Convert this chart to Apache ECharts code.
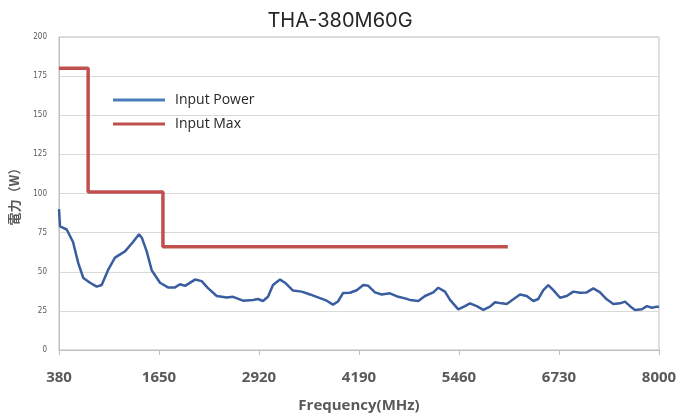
<!DOCTYPE html>
<html>
<head>
<meta charset="utf-8">
<script src="https://cdn.jsdelivr.net/npm/echarts@6/dist/echarts.min.js"></script>
<style>
  html, body { margin: 0; padding: 0; background: #fff; }
  #chart { width: 680px; height: 419px; }
</style>
</head>
<body>
<div id="chart"></div>
<script>
// values
var freqTicks = [380, 1650, 2920, 4190, 5460, 6730, 8000];

var powerFreq = [380, 393, 478, 558, 625, 689, 774, 859, 922, 1002, 1091, 1218, 1320, 1396, 1434, 1494, 1557, 1663, 1764, 1853,
  1917, 1980, 2107, 2192, 2272, 2383, 2510, 2590, 2717, 2844, 2907, 2971, 3034, 3098, 3187, 3250, 3352, 3462, 3568, 3669,
  3780, 3860, 3923, 3987, 4076, 4161, 4245, 4308, 4393, 4478, 4584, 4689, 4774, 4838, 4943, 5028, 5134, 5197, 5282, 5346,
  5451, 5536, 5600, 5685, 5769, 5854, 5917, 6002, 6066, 6150, 6235, 6320, 6404, 6467, 6531, 6594, 6658, 6743, 6828, 6912,
  6997, 7082, 7166, 7251, 7336, 7420, 7505, 7568, 7632, 7695, 7783, 7846, 7910, 7974, 8000];
var powerVal = [90, 79, 77, 69, 55.5, 46, 43, 40.5, 41.5, 51, 59, 63, 69, 74, 71.5, 63, 51, 43, 40, 40,
  42, 41, 45, 44, 39.5, 34.5, 33.5, 34, 31.5, 32, 32.6, 31.3, 34, 41.5, 45, 43, 38, 37.3, 35.5, 33.6,
  31.5, 29, 31, 36.4, 36.6, 38.2, 41.5, 41, 36.8, 35.5, 36.2, 34, 33, 32, 31.3, 34.5, 36.8, 39.8, 37.3, 32,
  26, 28, 29.8, 28, 25.6, 27.7, 30.5, 29.8, 29.4, 32.4, 35.5, 34.5, 31.3, 32.6, 38.3, 41.5, 38.3, 33.4, 34.5, 37.3,
  36.6, 36.8, 39.4, 36.8, 32.4, 29.4, 29.8, 30.9, 28, 25.6, 26, 28, 27, 27.7, 27.5];

var maxFreq = [380, 750, 750, 1700, 1700, 6080];
var maxVal = [180, 180, 101, 101, 66, 66];

function pairs(xs, ys) {
  return xs.map(function (x, i) { return [x, ys[i]]; });
}

var myChart = echarts.init(document.getElementById('chart'));
var option = {
  title: {
    text: 'THA-380M60G',
    left: 'center',
    top: 6,
    textStyle: { color: '#262626', fontSize: 20, fontWeight: 'normal', fontFamily: 'Inter' }
  },
  legend: {
    orient: 'vertical',
    left: 108,
    top: 88,
    itemWidth: 52,
    itemHeight: 3,
    itemGap: 10,
    icon: 'rect',
    data: [
      { name: 'Input Power', itemStyle: { color: '#4A7EBB' } },
      { name: 'Input Max', itemStyle: { color: '#C0504D' } }
    ],
    textStyle: { color: '#262626', fontSize: 14, fontFamily: 'Open Sans', padding: [0, 0, 0, 5] }
  },
  grid: {
    left: 59, right: 21, top: 37, bottom: 69,
    show: true, borderColor: '#bfbfbf', borderWidth: 1
  },
  xAxis: {
    type: 'value',
    min: 380,
    max: 8000,
    name: 'Frequency(MHz)',
    nameLocation: 'middle',
    nameGap: 48,
    nameTextStyle: { color: '#595959', fontSize: 15, fontWeight: 'bold', fontFamily: 'Open Sans' },
    axisLine: { lineStyle: { color: '#bfbfbf' } },
    axisTick: { show: true, length: 5, lineStyle: { color: '#bfbfbf' }, customValues: freqTicks },
    axisLabel: {
      customValues: freqTicks,
      formatter: function (v) { return String(v); },
      margin: 20,
      color: '#595959', fontSize: 15, fontWeight: 'bold', fontFamily: 'Open Sans'
    },
    splitLine: { show: false }
  },
  yAxis: {
    type: 'value',
    min: 0,
    max: 200,
    interval: 25,
    name: '電力（W）',
    nameLocation: 'middle',
    nameRotate: 90,
    nameGap: 38,
    nameTextStyle: { color: '#595959', fontSize: 13, fontWeight: 'bold', fontFamily: 'Noto Sans CJK JP' },
    axisLine: { show: true, lineStyle: { color: '#bfbfbf' } },
    axisTick: { show: false },
    axisLabel: { color: '#595959', fontSize: 8, margin: 12, fontFamily: 'DejaVu Sans Condensed' },
    splitLine: { lineStyle: { color: '#d9d9d9' } }
  },
  series: [
    {
      name: 'Input Power',
      type: 'line',
      showSymbol: false,
      color: '#3A5DA0',
      lineStyle: { width: 2.5 },
      data: pairs(powerFreq, powerVal)
    },
    {
      name: 'Input Max',
      type: 'line',
      showSymbol: false,
      color: '#C0504D',
      lineStyle: { width: 3.5 },
      data: pairs(maxFreq, maxVal)
    }
  ]
};
myChart.setOption(option);
</script>
</body>
</html>
